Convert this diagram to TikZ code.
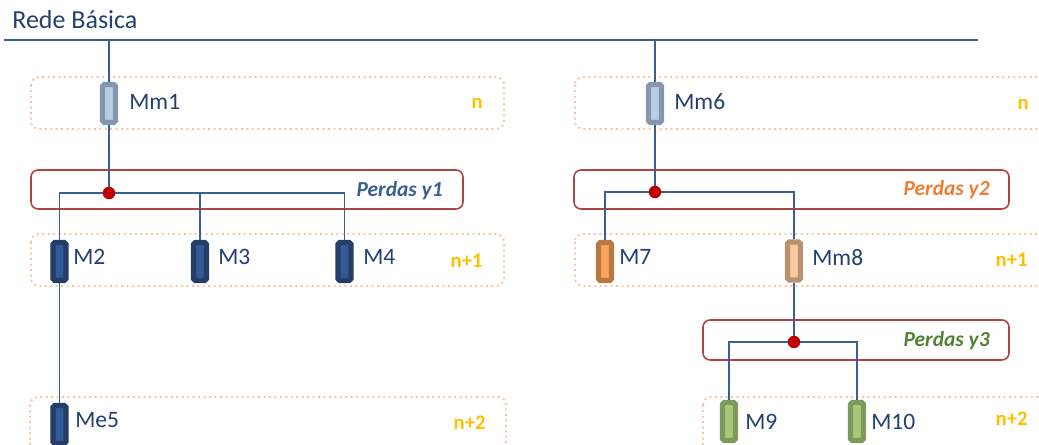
\documentclass[tikz,border=0pt]{standalone}
\usepackage{fontspec}
\setmainfont{Carlito}

\definecolor{wireblue}{HTML}{3A5F93}
\definecolor{txtblue}{HTML}{24406F}
\definecolor{lvlorange}{HTML}{F8C49A}
\definecolor{lossred}{HTML}{B04444}
\definecolor{dotred}{HTML}{C00000}
\definecolor{tiergold}{HTML}{FFC000}
\definecolor{lossorange}{HTML}{ED7D31}
\definecolor{lossgreen}{HTML}{548235}
\definecolor{greyout}{HTML}{8596AE}
\definecolor{greyin}{HTML}{B8CCE4}
\definecolor{navyout}{HTML}{243E68}
\definecolor{navyin}{HTML}{325A96}
\definecolor{orout}{HTML}{B87840}
\definecolor{orin}{HTML}{F9A55C}
\definecolor{tanout}{HTML}{B89270}
\definecolor{tanin}{HTML}{F9CB9C}
\definecolor{grout}{HTML}{7F9A5A}
\definecolor{grin}{HTML}{A9C97A}

\begin{document}
\begin{tikzpicture}[x=0.02cm,y=-0.02cm,
  wire/.style={draw=wireblue,line width=1.2pt},
  branch/.style={draw=wireblue,line width=0.9pt},
  level/.style={draw=lvlorange,dotted,line width=1.1pt,rounded corners=4.5pt},
  loss/.style={draw=lossred,line width=0.9pt,rounded corners=4pt},
  meter/.style 2 args={draw=#1,fill=#2,line width=3pt,rounded corners=1pt,
    minimum width=0.26cm,minimum height=0.76cm,inner sep=0pt},
  tag/.style={anchor=base west,inner sep=0pt,text=txtblue,
    font=\fontsize{13.4}{15}\selectfont},
  tier/.style={anchor=base east,inner sep=0pt,text=tiergold,
    font=\fontsize{11.8}{13}\selectfont\bfseries},
  lossname/.style={anchor=base east,inner sep=0pt,
    font=\fontsize{12.2}{14}\selectfont\bfseries\itshape},
  dot/.style={circle,fill=dotred,inner sep=0pt,minimum size=0.25cm}
]
\useasboundingbox (0,0) rectangle (1039,445);
\clip (0,0) rectangle (1039,445);

% levels
\foreach \xa/\ya/\xb/\yb in {31/77/504/129, 575/77/1060/129,
    31/234/504/286, 575/234/1060/286, 30/397/506/470, 703/397/1060/470}
  \draw[level] (\xa,\ya) rectangle (\xb,\yb);

\foreach \nm/\x/\y/\t in {nA/483/109/n, nB/1029/110/n, nC/483/268/n+1,
    nD/1028/267/n+1, nE/486/430/n+2, nF/1028/426/n+2}
  \node[tier] (\nm) at (\x,\y) {\t};

% losses
\draw[loss] (31,170) rectangle (463,209);
\draw[loss] (574,170) rectangle (1009,209);
\draw[loss] (703,320) rectangle (1009,360);

\node[lossname,text=wireblue] (y1) at (443,197) {Perdas y1};
\node[lossname,text=lossorange] (y2) at (990,196) {Perdas y2};
\node[lossname,text=lossgreen] (y3) at (990,347) {Perdas y3};

% bus
\node[anchor=base west,inner sep=0pt,text=txtblue,
  font=\fontsize{14.8}{17}\selectfont] (rede) at (12,29) {Rede Básica};
\coordinate (b0) at (4,40);
\coordinate (b1) at (978,40);
\coordinate (t1) at (109,40);
\coordinate (t6) at (655,40);
\draw[wire] (b0) -- (b1);

% meters
\foreach \nm/\x/\y in {mm1/109/103.5, mm6/655/103.5}
  \node[meter={greyout}{greyin}] (\nm) at (\x,\y) {};
\foreach \nm/\x/\y in {m2/59.5/261.5, m3/200/261.5, m4/344.5/261.5, me5/59.5/424.5}
  \node[meter={navyout}{navyin}] (\nm) at (\x,\y) {};
\node[meter={orout}{orin}] (m7) at (605,261.5) {};
\node[meter={tanout}{tanin}] (mm8) at (794,261) {};
\foreach \nm/\x/\y in {m9/729/421.5, m10/857/421.5}
  \node[meter={grout}{grin}] (\nm) at (\x,\y) {};

\foreach \nm/\x/\y/\t in {mm1/129/110/Mm1, m2/73/265/M2, m3/218/265/M3,
    m4/363/265/M4, me5/75/428/Me5, mm6/674/110/Mm6, m7/619/265/M7,
    mm8/812/266/Mm8, m9/745/430/M9, m10/871/430/M10}
  \node[tag] (\nm t) at (\x,\y) {\t};

% wires
\coordinate (j1) at (109,193);
\coordinate (j2) at (655,192);
\coordinate (j3) at (794,342);

\draw[wire] (t1) -- (mm1);
\draw[wire] (mm1) -- (j1);
\draw[wire] (t6) -- (mm6);
\draw[wire] (mm6) -- (j2);
\draw[wire] (mm8) -- (j3);

\foreach \j/\m in {j1/m2, j1/m3, j1/m4, j2/m7, j2/mm8, j3/m9, j3/m10}
  \draw[branch] (\j) -| (\m);
\draw[branch] (m2) -- (me5);

\foreach \j in {j1,j2,j3}
  \node[dot] (d\j) at (\j) {};

\end{tikzpicture}
\end{document}
